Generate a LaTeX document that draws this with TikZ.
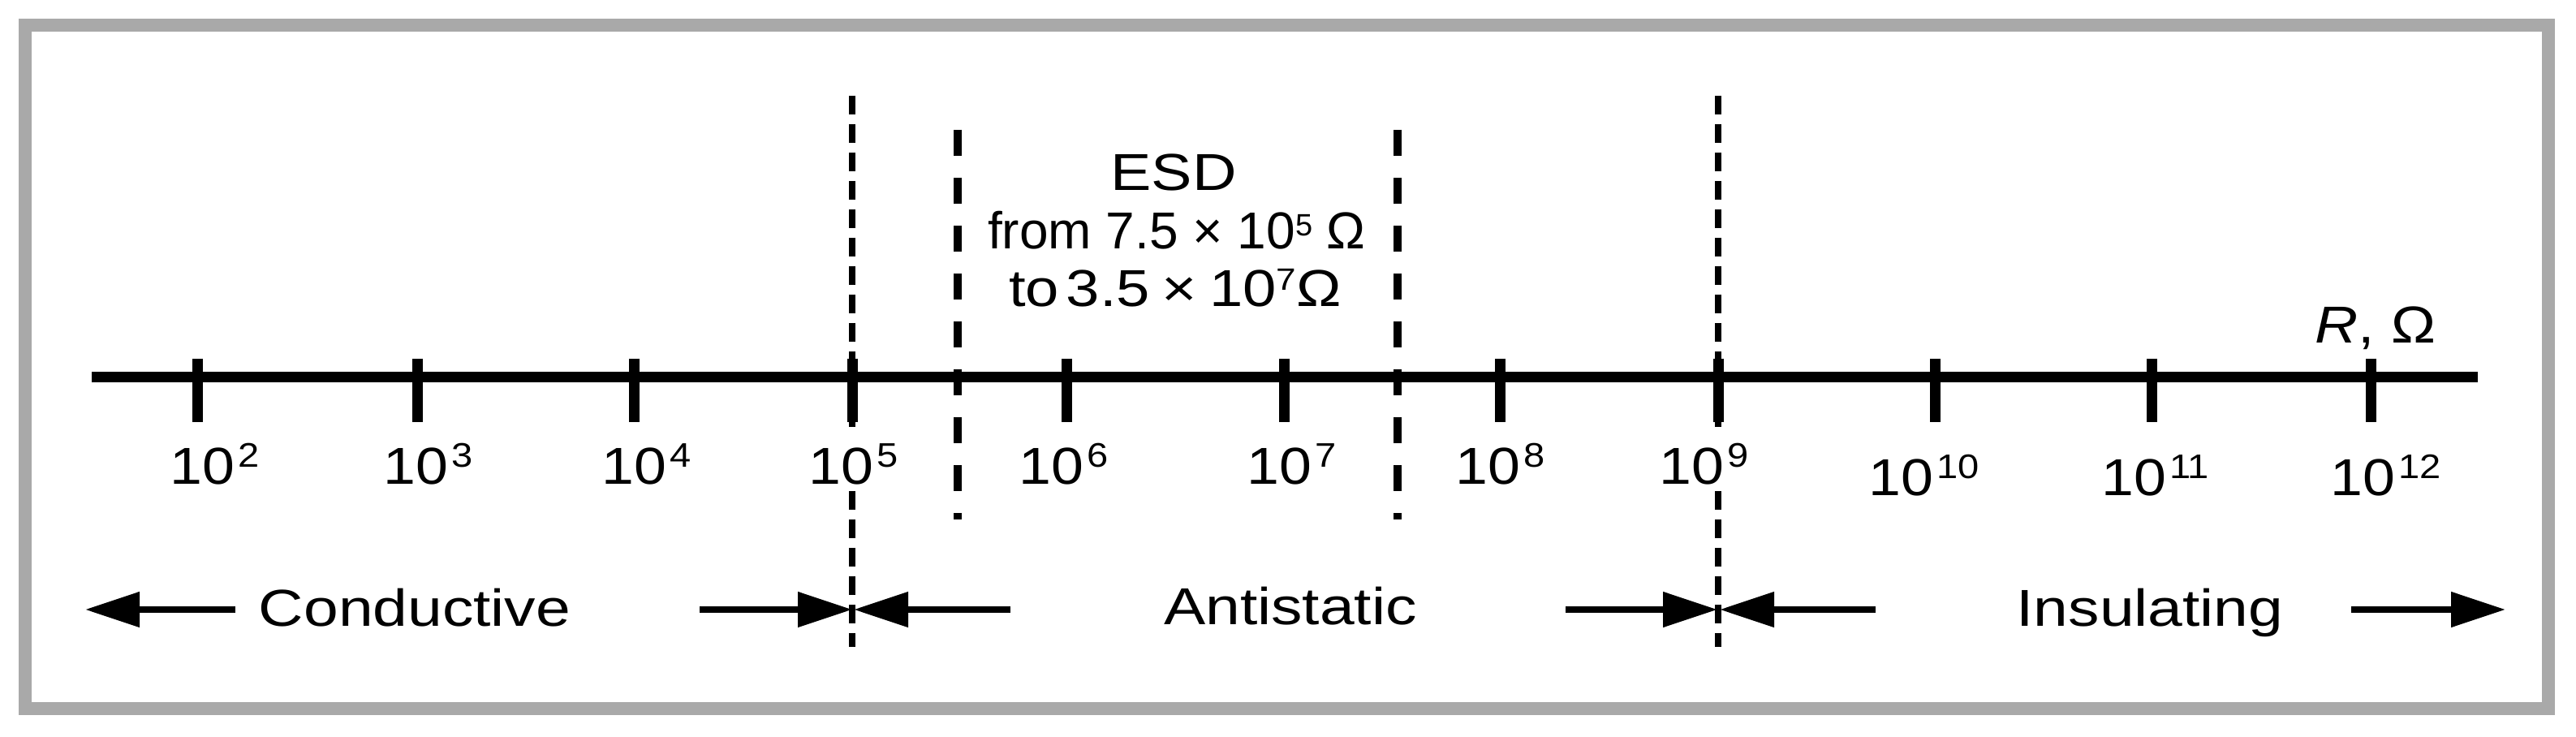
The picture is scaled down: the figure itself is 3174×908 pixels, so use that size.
\documentclass[tikz,border=0pt]{standalone}
\usepackage{graphicx}
\usepackage{fontspec}
\setmainfont{Liberation Sans}
\usetikzlibrary{arrows.meta}
\definecolor{framegray}{RGB}{169,169,169}
\newcommand{\hsc}[2]{\scalebox{#1}[1]{#2}}
\newcommand{\tlab}[1]{\hsc{1.12}{10\hspace{0.8pt}\raisebox{5.3pt}{\fontsize{10.5}{10.5}\selectfont #1}}}
\newcommand{\esup}[2]{\raisebox{#1}{\fontsize{9.5}{9.5}\selectfont #2}}
\begin{document}
\begin{tikzpicture}[x=0.25pt,y=-0.25pt,
  every node/.style={inner sep=0pt, font=\fontsize{16}{19}\selectfont},
  framebox/.style={line width=4pt, draw=framegray},
  axisline/.style={line width=3.25pt},
  tickline/.style={line width=3.25pt},
  bounddash/.style={line width=2.2pt, dash pattern=on 5.75pt off 3pt},
  esddash/.style={line width=2.4pt, dash pattern=on 8pt off 6.75pt},
  regarrow/.style={line width=2pt, -{Triangle[length=16.75pt,width=10.5pt]}},
  ticklabel/.style={anchor=base west},
  regionlabel/.style={anchor=base}]
\useasboundingbox (0,0) rectangle (3174,908);
\draw[framebox] (31,31) rectangle (3140,873);
% axis
\coordinate (axL) at (113,465);
\coordinate (axR) at (3053,465);
\draw[axisline] (axL) -- (axR);
% ticks
\foreach \k/\xx in {2/243,3/514,4/781,5/1050,6/1314,7/1582,8/1848,9/2117,10/2384,11/2651,12/2921} {
  \coordinate (tt\k) at (\xx,442);
  \coordinate (tb\k) at (\xx,520);
  \draw[tickline] (tt\k) -- (tb\k);
}
% tick labels
\node[ticklabel] (l2) at (209,597) {\tlab{2}};
\node[ticklabel] (l3) at (472,597) {\tlab{3}};
\node[ticklabel] (l4) at (741,597) {\tlab{4}};
\node[ticklabel] (l5) at (996,597) {\tlab{5}};
\node[ticklabel] (l6) at (1255,597) {\tlab{6}};
\node[ticklabel] (l7) at (1536,597) {\tlab{7}};
\node[ticklabel] (l8) at (1793,597) {\tlab{8}};
\node[ticklabel] (l9) at (2044,597) {\tlab{9}};
\node[ticklabel] (l10) at (2302,611) {\tlab{10}};
\node[ticklabel] (l11) at (2589,611) {\tlab{11}};
\node[ticklabel] (l12) at (2871,611) {\tlab{12}};
% boundary dashed lines (interrupted at the tick labels)
\coordinate (d5t) at (1050,118);
\coordinate (d5m) at (1050,528);
\coordinate (d5n) at (1050,605);
\coordinate (d5b) at (1050,797);
\coordinate (d9t) at (2117,118);
\coordinate (d9m) at (2117,528);
\coordinate (d9n) at (2117,605);
\coordinate (d9b) at (2117,797);
\draw[bounddash] (d5t) -- (d5m);
\draw[bounddash] (d5n) -- (d5b);
\draw[bounddash] (d9t) -- (d9m);
\draw[bounddash] (d9n) -- (d9b);
% ESD dashed lines
\coordinate (eLt) at (1180,160);
\coordinate (eLb) at (1180,640);
\coordinate (eRt) at (1722,160);
\coordinate (eRb) at (1722,640);
\draw[esddash] (eLt) -- (eLb);
\draw[esddash] (eRt) -- (eRb);
% ESD text
\node[regionlabel] (esd) at (1446,235) {\hsc{1.18}{ESD}};
\node[regionlabel] (from) at (1450,307) {from 7.5 × 10\esup{4.1pt}{5} Ω};
\node[regionlabel] (to) at (1448,378) {\hsc{1.16}{to\hspace{0.12em}3.5\hspace{0.2em}×\hspace{0.2em}10\esup{5pt}{7}Ω}};
% axis unit
\node[regionlabel] (runit) at (2927,423) {\hsc{1.15}{\textit{R}, Ω}};
% region labels
\node[regionlabel] (cond) at (511,772) {\hsc{1.2}{Conductive}};
\node[regionlabel] (anti) at (1590,770) {\hsc{1.2}{Antistatic}};
\node[regionlabel] (insu) at (2649,772) {\hsc{1.2}{Insulating}};
% region arrows
\coordinate (c1s) at (290,751);
\coordinate (c1e) at (105,751);
\coordinate (c2s) at (862,751);
\coordinate (c2e) at (1050,751);
\coordinate (a1s) at (1245,751);
\coordinate (a1e) at (1052,751);
\coordinate (a2s) at (1929,751);
\coordinate (a2e) at (2116,751);
\coordinate (i1s) at (2311,751);
\coordinate (i1e) at (2119,751);
\coordinate (i2s) at (2897,751);
\coordinate (i2e) at (3087,751);
\draw[regarrow] (c1s) -- (c1e);
\draw[regarrow] (c2s) -- (c2e);
\draw[regarrow] (a1s) -- (a1e);
\draw[regarrow] (a2s) -- (a2e);
\draw[regarrow] (i1s) -- (i1e);
\draw[regarrow] (i2s) -- (i2e);
\end{tikzpicture}
\end{document}
